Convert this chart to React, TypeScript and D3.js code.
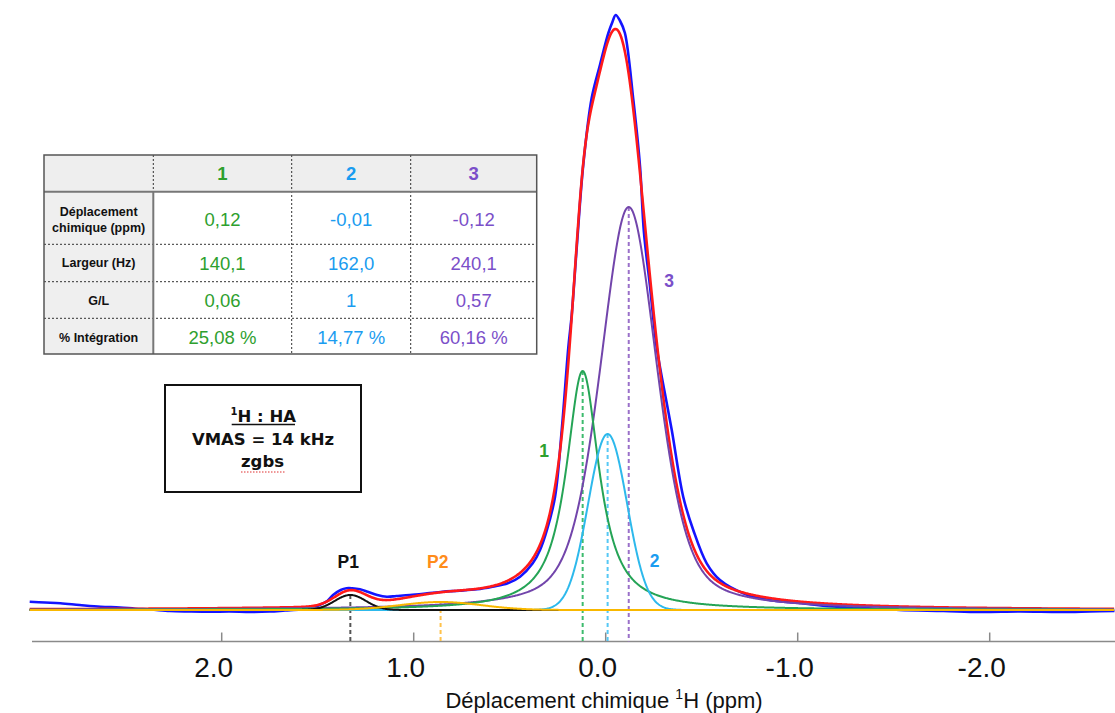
import React from 'react';
import * as d3 from 'd3';

const W = 1115;
const H = 713;

// ---- Fitted components (table values + heights) ----
const compNames = ['1', '2', '3', 'P1', 'P2'];
const compShift = [0.12, -0.01, -0.12, 1.33, 0.86]; // ppm
const compWidthHz = [140.1, 162.0, 240.1, 130, 340]; // Hz
const compGL = [0.06, 1, 0.57, 1, 1];
const compHeight = [239, 176, 403, 15, 8]; // a.u.
const compColor = ['#25a456', '#2db9ec', '#7245ab', '#111111', '#f9b800'];
const dashColor = ['#3dbb6e', '#56c8f5', '#9a70c9', '#555555', '#ffc24a'];
const specFreqMHz = 680;

const expShift = [
  3.0, 2.92, 2.84, 2.74, 2.63, 2.53, 2.45, 2.37, 2.27, 2.17, 2.06, 1.96, 1.85, 1.75, 1.67,
  1.59, 1.54, 1.49, 1.45, 1.42, 1.38, 1.35, 1.32, 1.28, 1.24, 1.19, 1.14, 1.09, 1.02, 0.93,
  0.85, 0.76, 0.67, 0.59, 0.51, 0.446, 0.38, 0.342, 0.306, 0.264, 0.229, 0.195, 0.177, 0.151,
  0.117, 0.073, 0.03, -0.014, -0.035, -0.052, -0.075, -0.1, -0.144, -0.179, -0.199, -0.23,
  -0.266, -0.305, -0.344, -0.404, -0.456, -0.526, -0.595, -0.726, -0.85, -0.996, -1.18,
  -1.376, -1.53, -1.76, -1.95, -2.16, -2.37, -2.52, -2.65,
];
const expIntensity = [
  8.3, 7.5, 6.7, 5, 3.3, 2.5, 1.3, 0.5, -1, -1.5, -1.8, -1.5, -2, -1.5, -0.5,
  0.5, 1.5, 5, 9, 15, 20, 21.7, 21.7, 20.7, 18.3, 15, 13.3, 14, 15, 16.7,
  18.3, 19.3, 20.7, 23.3, 26.7, 33.3, 46.7, 60, 80, 113, 180, 262, 295, 362,
  445, 512, 545, 577, 588, 595, 589, 577, 510, 443, 378, 325,
  262, 220, 180, 113, 80, 46.7, 30, 16, 10, 7.3, 3.5,
  1.8, 0, -1, -2, -1.5, -2, -1.5, -1,
];

// ---- Axis ----
const xTicks = [2, 1, 0, -1, -2];

// ---- Table ----
const tableCols = ['1', '2', '3'];
const tableColColors = ['#2ea02e', '#1a9cf0', '#7b4fc9'];
const rowLabels = [['Déplacement', 'chimique (ppm)'], ['Largeur (Hz)'], ['G/L'], ['% Intégration']];
const rowValues = [
  ['0,12', '-0,01', '-0,12'],
  ['140,1', '162,0', '240,1'],
  ['0,06', '1', '0,57'],
  ['25,08 %', '14,77 %', '60,16 %'],
];

const boxLines = ['H : HA', 'VMAS = 14 kHz', 'zgbs'];

function pseudoVoigt(x: number, i: number) {
  const w = compWidthHz[i] / specFreqMHz;
  const d = (x - compShift[i]) / w;
  const g = compGL[i];
  return compHeight[i] * (g * Math.exp(-4 * Math.LN2 * d * d) + (1 - g) / (1 + 4 * d * d));
}

export default function App() {
  const x = d3.scaleLinear().domain([3.0, -2.65]).range([29.7, 1114.5]);
  const y = d3.scaleLinear().domain([0, 600]).range([610, 10]);
  const axisY = 641.5;

  const grid = d3.range(3.0, -2.6501, -0.004);
  const line = d3
    .line<[number, number]>()
    .x((d) => x(d[0]))
    .y((d) => y(d[1]));

  const compPaths = compNames.map((_, i) => {
    const g = i === 3 ? grid.filter((p) => p >= 0.2) : grid;
    return line(g.map((p) => [p, pseudoVoigt(p, i)] as [number, number]));
  });
  const sumPath = line(
    grid.map((p) => [p, compNames.reduce((s, _, i) => s + pseudoVoigt(p, i), 0)] as [number, number])
  );
  const expLine = d3
    .line<[number, number]>()
    .x((d) => x(d[0]))
    .y((d) => y(d[1]))
    .curve(d3.curveCatmullRom.alpha(0.5));
  const expPath = expLine(expShift.map((p, i) => [p, expIntensity[i]] as [number, number]));

  // draw order: purple, green, cyan, black, orange
  const order = [2, 0, 1, 3, 4];

  // table geometry
  const tX = [44, 153.3, 291.7, 410.7, 536.7];
  const tY = [155, 191.7, 244.3, 281.7, 318.3, 354];
  const valBase = [226, 270, 307.3, 344.3];
  const labBase = [[215.7, 231.7], [267.3], [305], [341.7]];
  const sans = 'Liberation Sans, Arial, Helvetica, sans-serif';

  return (
    <svg
      width={W}
      height={H}
      viewBox={`0 0 ${W} ${H}`}
      style={{ position: 'absolute', left: 0, top: 0, background: '#fff' }}
    >
      <rect x={0} y={0} width={W} height={H} fill="#fff" />

      {/* x axis */}
      <line x1={32} x2={1115} y1={axisY} y2={axisY} stroke="#8a8a8a" strokeWidth={1.5} />
      {xTicks.map((t) => (
        <g key={t}>
          <line x1={x(t)} x2={x(t)} y1={axisY - 9} y2={axisY} stroke="#8a8a8a" strokeWidth={1.5} />
          <text x={x(t) - 8} y={677} textAnchor="middle" fontFamily={sans} fontSize={28} fill="#111">
            {t.toFixed(1)}
          </text>
        </g>
      ))}
      <text x={604} y={708} textAnchor="middle" fontFamily={sans} fontSize={22} fill="#111">
        Déplacement chimique{' '}
        <tspan fontSize={14} dy={-9}>1</tspan>
        <tspan dy={9}>H (ppm)</tspan>
      </text>

      {/* dashed peak markers */}
      {compNames.map((_, i) => (
        <line
          key={'d' + i}
          x1={x(compShift[i])}
          x2={x(compShift[i])}
          y1={y(compHeight[i])}
          y2={axisY}
          stroke={dashColor[i]}
          strokeWidth={2}
          strokeDasharray="4,3"
        />
      ))}

      {/* spectra */}
      <path d={expPath || ''} fill="none" stroke="#1414ff" strokeWidth={2.6} />
      <path d={sumPath || ''} fill="none" stroke="#ff1a1a" strokeWidth={2.6} />
      {order.map((i) => (
        <path key={'c' + i} d={compPaths[i] || ''} fill="none" stroke={compColor[i]} strokeWidth={2} />
      ))}

      {/* peak labels */}
      <text x={669} y={287.3} textAnchor="middle" fontFamily={sans} fontWeight="bold" fontSize={17.5} fill="#7b4fc9">3</text>
      <text x={544} y={457.3} textAnchor="middle" fontFamily={sans} fontWeight="bold" fontSize={17.5} fill="#2ea02e">1</text>
      <text x={654.7} y={567.3} textAnchor="middle" fontFamily={sans} fontWeight="bold" fontSize={17.5} fill="#1a9cf0">2</text>
      <text x={348.3} y={567.7} textAnchor="middle" fontFamily={sans} fontWeight="bold" fontSize={17.5} fill="#111">P1</text>
      <text x={437.7} y={567.7} textAnchor="middle" fontFamily={sans} fontWeight="bold" fontSize={17.5} fill="#ff8c1a">P2</text>

      {/* table */}
      <rect x={tX[0]} y={tY[0]} width={tX[4] - tX[0]} height={tY[1] - tY[0]} fill="#eeeeee" />
      <rect x={tX[0]} y={tY[1]} width={tX[1] - tX[0]} height={tY[5] - tY[1]} fill="#efefef" />
      {tY.slice(2, 5).map((yy) => (
        <line key={'h' + yy} x1={tX[0]} x2={tX[4]} y1={yy} y2={yy} stroke="#333" strokeWidth={1} strokeDasharray="2,2" />
      ))}
      {tX.slice(2, 4).map((xx) => (
        <line key={'v' + xx} x1={xx} x2={xx} y1={tY[0]} y2={tY[5]} stroke="#333" strokeWidth={1} strokeDasharray="2,2" />
      ))}
      <line x1={tX[1]} x2={tX[1]} y1={tY[0]} y2={tY[1]} stroke="#333" strokeWidth={1} strokeDasharray="2,2" />
      <line x1={tX[1]} x2={tX[1]} y1={tY[1]} y2={tY[5]} stroke="#777" strokeWidth={2} />
      <line x1={tX[0]} x2={tX[4]} y1={tY[1]} y2={tY[1]} stroke="#777" strokeWidth={2} />
      <rect x={tX[0]} y={tY[0]} width={tX[4] - tX[0]} height={tY[5] - tY[0]} fill="none" stroke="#555" strokeWidth={1.5} />
      {tableCols.map((c, j) => (
        <text key={'hc' + j} x={(tX[j + 1] + tX[j + 2]) / 2} y={180} textAnchor="middle" fontFamily={sans} fontWeight="bold" fontSize={18.5} fill={tableColColors[j]}>
          {c}
        </text>
      ))}
      {rowLabels.map((lab, r) =>
        lab.map((s, k) => (
          <text key={'rl' + r + k} x={(tX[0] + tX[1]) / 2} y={labBase[r][k]} textAnchor="middle" fontFamily={sans} fontWeight="bold" fontSize={12.5} fill="#111">
            {s}
          </text>
        ))
      )}
      {rowValues.map((vals, r) =>
        vals.map((v, j) => (
          <text key={'v' + r + j} x={(tX[j + 1] + tX[j + 2]) / 2} y={valBase[r]} textAnchor="middle" fontFamily={sans} fontSize={18.5} fill={tableColColors[j]}>
            {v}
          </text>
        ))
      )}

      {/* info box */}
      <rect x={165} y={385} width={196} height={107} fill="#fff" stroke="#111" strokeWidth={2} />
      <text x={263.3} y={421.7} textAnchor="middle" fontFamily="DejaVu Sans, sans-serif" fontWeight="bold" fontSize={16.5} fill="#111">
        <tspan fontSize={10} dy={-7}>1</tspan>
        <tspan dy={7}>{boxLines[0]}</tspan>
      </text>
      <line x1={231.7} x2={295} y1={424.5} y2={424.5} stroke="#111" strokeWidth={1.5} />
      <text x={263} y={445} textAnchor="middle" fontFamily="DejaVu Sans, sans-serif" fontWeight="bold" fontSize={16.5} fill="#111">
        {boxLines[1]}
      </text>
      <text x={262.5} y={467} textAnchor="middle" fontFamily="DejaVu Sans, sans-serif" fontWeight="bold" fontSize={16.5} fill="#111">
        {boxLines[2]}
      </text>
      <line x1={241} x2={285} y1={472} y2={472} stroke="#e03030" strokeWidth={1.2} strokeDasharray="1.5,1.5" />
    </svg>
  );
}
